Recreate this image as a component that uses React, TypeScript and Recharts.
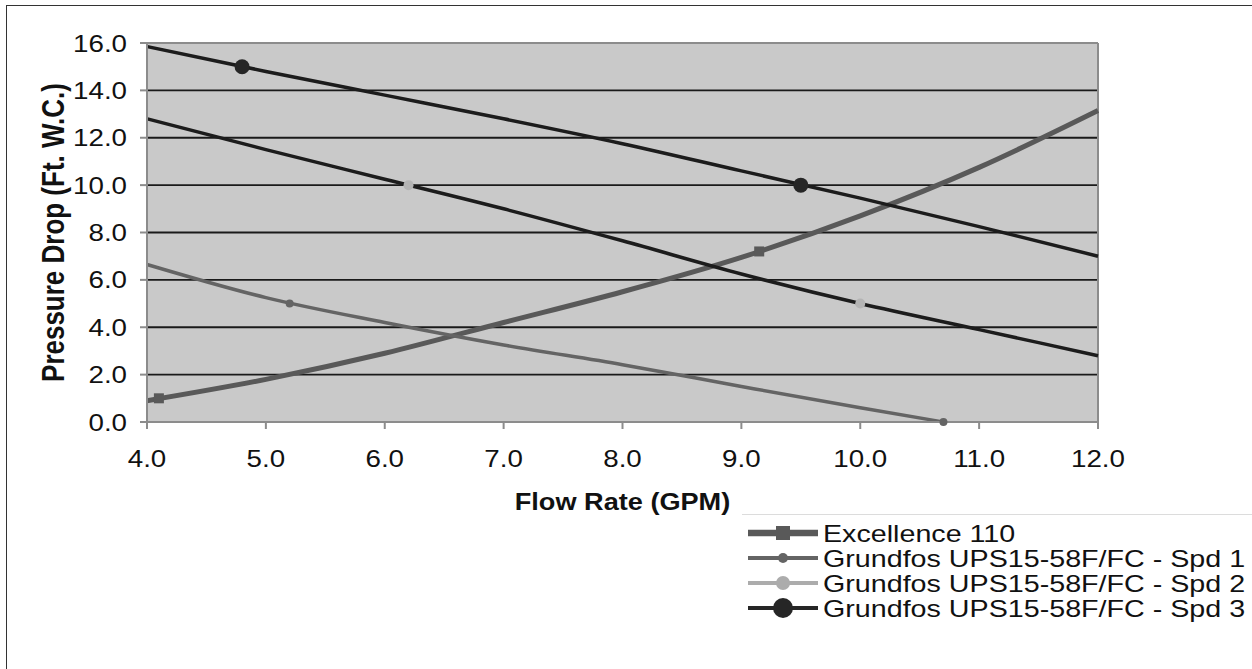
import React from 'react'
import {
  ComposedChart,
  Line,
  XAxis,
  YAxis,
  CartesianGrid,
  ReferenceLine,
  Legend,
} from 'recharts'

// values
const flowRate = [4, 5, 6, 7, 8, 9, 10, 11, 12]
const excellence110 = [0.9, 1.8, 2.9, 4.2, 5.5, 6.95, 8.7, 10.75, 13.15]
const spd1Flow = [4, 5, 6, 7, 8, 9, 10, 10.7]
const spd1 = [6.65, 5.25, 4.2, 3.25, 2.42, 1.5, 0.6, 0]
const spd2 = [12.8, 11.5, 10.25, 9.0, 7.65, 6.25, 5.0, 3.9, 2.8]
const spd3 = [15.85, 14.8, 13.8, 12.8, 11.75, 10.6, 9.45, 8.25, 7.0]

// points that carry a marker
const excellenceMarkX = [4.1, 9.15]
const excellenceMarkY = [1.0, 7.2]
const spd1MarkX = [5.2, 10.7]
const spd1MarkY = [5.0, 0.0]
const spd2MarkX = [6.2, 10.0]
const spd2MarkY = [10.0, 5.0]
const spd3MarkX = [4.8, 9.5]
const spd3MarkY = [15.0, 10.0]

const xTicks = [4, 5, 6, 7, 8, 9, 10, 11, 12]
const yTicks = [0, 2, 4, 6, 8, 10, 12, 14, 16]
const gridValues = [2, 4, 6, 8, 10, 12, 14]

const seriesNames = [
  'Excellence 110',
  'Grundfos UPS15-58F/FC - Spd 1',
  'Grundfos UPS15-58F/FC - Spd 2',
  'Grundfos UPS15-58F/FC - Spd 3',
]

const toPoints = (xs: number[], ys: number[]) => xs.map((x, i) => ({ x, y: ys[i] }))

const FONT = '"Liberation Sans", Arial, sans-serif'
const STRETCH = 1.18

type Marker = 'square' | 'circle'

const series = [
  {
    name: seriesNames[0],
    line: toPoints(flowRate, excellence110),
    marks: toPoints(excellenceMarkX, excellenceMarkY),
    stroke: '#595959',
    width: 5,
    marker: 'square' as Marker,
    markColor: '#595959',
    markSize: 5,
    legendColor: '#595959',
    legendWidth: 6.5,
    legendMark: 7,
  },
  {
    name: seriesNames[1],
    line: toPoints(spd1Flow, spd1),
    marks: toPoints(spd1MarkX, spd1MarkY),
    stroke: '#646464',
    width: 3.5,
    marker: 'circle' as Marker,
    markColor: '#646464',
    markSize: 4,
    legendColor: '#646464',
    legendWidth: 4,
    legendMark: 5,
  },
  {
    name: seriesNames[2],
    line: toPoints(flowRate, spd2),
    marks: toPoints(spd2MarkX, spd2MarkY),
    stroke: '#1c1c1c',
    width: 3.5,
    marker: 'circle' as Marker,
    markColor: '#b4b4b4',
    markSize: 5,
    legendColor: '#acacac',
    legendWidth: 4,
    legendMark: 7,
  },
  {
    name: seriesNames[3],
    line: toPoints(flowRate, spd3),
    marks: toPoints(spd3MarkX, spd3MarkY),
    stroke: '#1c1c1c',
    width: 3.5,
    marker: 'circle' as Marker,
    markColor: '#262626',
    markSize: 7.5,
    legendColor: '#262626',
    legendWidth: 4,
    legendMark: 10,
  },
]

const makeDot = (shape: Marker, size: number, color: string) => (props: any) => {
  const { cx, cy, index } = props
  if (cx == null || cy == null) return <g key={index} />
  if (shape === 'square') {
    return <rect key={index} x={cx - size} y={cy - size} width={size * 2} height={size * 2} fill={color} />
  }
  return <circle key={index} cx={cx} cy={cy} r={size} fill={color} />
}

const XTick = (props: any) => {
  const { x, y, payload } = props
  return (
    <g transform={`translate(${x},${y + 36}) scale(${STRETCH},1)`}>
      <text x={0} y={0} textAnchor="middle" fontSize={23.5} fontFamily={FONT} fill="#111">
        {Number(payload.value).toFixed(1)}
      </text>
    </g>
  )
}

const YTick = (props: any) => {
  const { x, y, payload } = props
  return (
    <g transform={`translate(${x - 11},${y + 8.5}) scale(${STRETCH},1)`}>
      <text x={0} y={0} textAnchor="end" fontSize={23.5} fontFamily={FONT} fill="#111">
        {Number(payload.value).toFixed(1)}
      </text>
    </g>
  )
}

const LegendBox = () => (
  <svg width={510} height={110} style={{ display: 'block' }}>
    <line x1={0} y1={0.5} x2={510} y2={0.5} stroke="#dcdcdc" strokeWidth={1} />
    {series.map((s, i) => {
      const cy = 19 + i * 25
      return (
        <g key={s.name}>
          <line x1={6} y1={cy} x2={76} y2={cy} stroke={s.legendColor} strokeWidth={s.legendWidth} />
          {s.marker === 'square' ? (
            <rect x={41 - s.legendMark} y={cy - s.legendMark} width={s.legendMark * 2} height={s.legendMark * 2} fill={s.legendColor} />
          ) : (
            <circle cx={41} cy={cy} r={s.legendMark} fill={s.legendColor} />
          )}
          <g transform={`translate(81,${cy + 8.5}) scale(1.22,1)`}>
            <text x={0} y={0} fontSize={23.5} fontFamily={FONT} fill="#111">
              {s.name}
            </text>
          </g>
        </g>
      )
    })}
  </svg>
)

export default function App() {
  return (
    <div
      style={{
        position: 'absolute',
        left: 0,
        top: 0,
        width: 1252,
        height: 669,
        background: '#fff',
        overflow: 'hidden',
      }}
    >
      <div
        style={{
          position: 'absolute',
          left: 6,
          top: 5,
          width: 1300,
          height: 700,
          border: '1.5px solid #333',
        }}
      />
      <div style={{ position: 'absolute', left: 0, top: 0 }}>
        <ComposedChart width={1252} height={669} margin={{ top: 43, right: 154, bottom: 157, left: 87 }}>
          <CartesianGrid
            vertical={false}
            horizontalValues={gridValues}
            stroke="#1a1a1a"
            strokeWidth={1.8}
            fill="#c9c9c9"
            fillOpacity={1}
          />
          <XAxis
            type="number"
            dataKey="x"
            domain={[4, 12]}
            ticks={xTicks}
            height={90}
            stroke="#8c8c8c"
            strokeWidth={2}
            tickSize={7}
            tick={<XTick />}
            label={{
              content: (p: any) => {
                const vb = p.viewBox || { x: 147, y: 422, width: 951 }
                return (
                  <g transform={`translate(${vb.x + vb.width / 2},${vb.y + 88}) scale(${STRETCH},1)`}>
                    <text x={0} y={0} textAnchor="middle" fontSize={23} fontWeight="bold" fontFamily={FONT} fill="#111">
                      Flow Rate (GPM)
                    </text>
                  </g>
                )
              },
            }}
          />
          <YAxis
            type="number"
            dataKey="y"
            domain={[0, 16]}
            ticks={yTicks}
            width={60}
            stroke="#8c8c8c"
            strokeWidth={2}
            tickSize={7}
            tick={<YTick />}
            label={{
              content: (p: any) => {
                const vb = p.viewBox || { x: 87, y: 43, height: 379 }
                return (
                  <g transform={`translate(${vb.x - 34},${vb.y + vb.height / 2}) rotate(-90) scale(1,${STRETCH})`}>
                    <text x={0} y={9} textAnchor="middle" fontSize={26} fontWeight="bold" fontFamily={FONT} fill="#111">
                      Pressure Drop (Ft. W.C.)
                    </text>
                  </g>
                )
              },
            }}
          />
          <ReferenceLine y={16} stroke="#8c8c8c" strokeWidth={2} />
          <ReferenceLine x={12} stroke="#8c8c8c" strokeWidth={2} />
          {series.map((s) => (
            <Line
              key={s.name}
              data={s.line}
              dataKey="y"
              name={s.name}
              type="monotone"
              stroke={s.stroke}
              strokeWidth={s.width}
              dot={false}
              activeDot={false}
              isAnimationActive={false}
              legendType="none"
            />
          ))}
          {series.map((s) => (
            <Line
              key={s.name + '-marks'}
              data={s.marks}
              dataKey="y"
              name={s.name + ' markers'}
              stroke="none"
              dot={makeDot(s.marker, s.markSize, s.markColor)}
              activeDot={false}
              isAnimationActive={false}
              legendType="none"
            />
          ))}
          <Legend
            layout="vertical"
            align="center"
            verticalAlign="middle"
            width={510}
            wrapperStyle={{ left: 742, top: 514, width: 510, height: 110 }}
            content={() => <LegendBox />}
          />
        </ComposedChart>
      </div>
    </div>
  )
}
